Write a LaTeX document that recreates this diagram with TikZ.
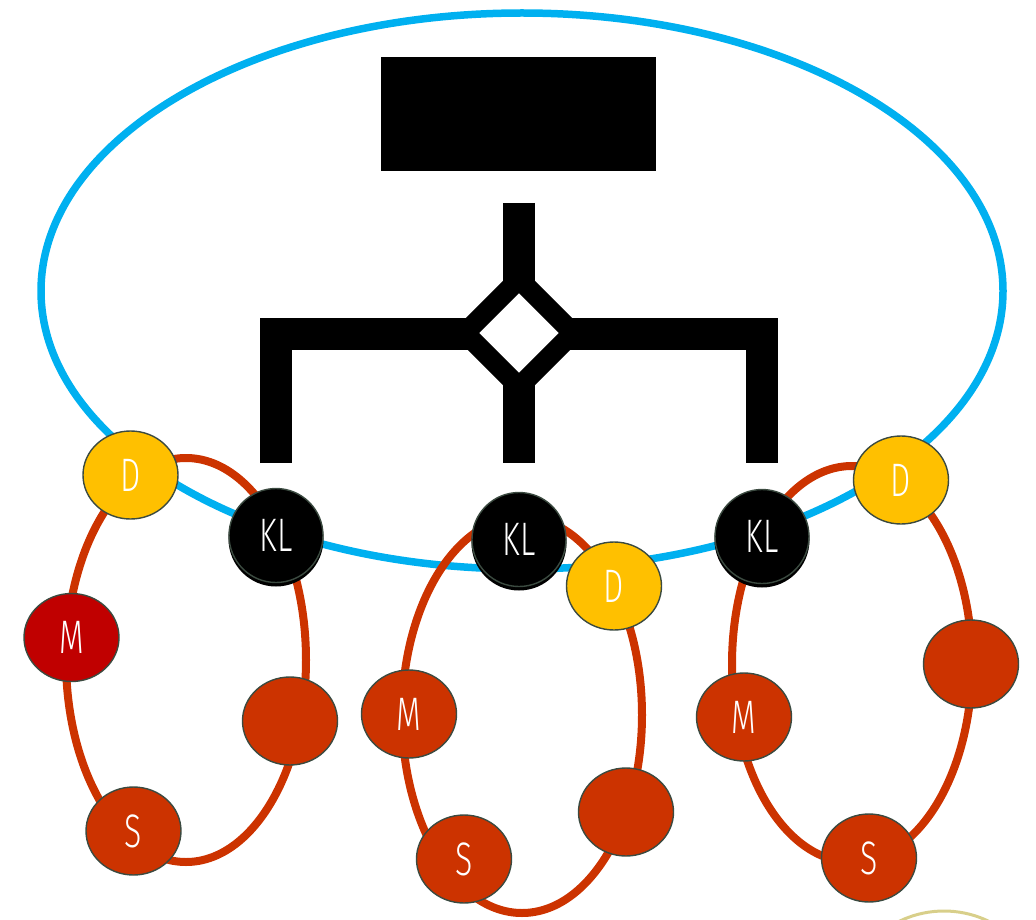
\documentclass[tikz,border=0pt]{standalone}
\usepackage{fontspec}
\usetikzlibrary{shapes.geometric}
\newfontfamily\lbl[FakeStretch=0.68]{Fira Sans Light}
\definecolor{skyb}{HTML}{00B0F0}
\definecolor{ringc}{HTML}{CC3300}
\definecolor{dyel}{HTML}{FFC000}
\definecolor{mred}{HTML}{C00000}
\definecolor{nbord}{HTML}{3B4A40}
\definecolor{khaki}{HTML}{D8CF8A}
\tikzset{
  x=1pt, y=-1pt,
  nd/.style={ellipse, minimum width=95pt, minimum height=88pt, inner sep=0pt,
    draw=nbord, line width=1.4pt, text=white, font=\lbl\fontsize{47}{47}\selectfont},
  dnode/.style={nd, fill=dyel},
  mnode/.style={nd, fill=ringc},
  klnode/.style={nd, circle, minimum size=94pt, fill=black},
  klshadow/.style={circle, minimum size=95pt, inner sep=0pt, fill=black},
  ring/.style={draw=ringc, line width=8pt},
  bar/.style={line width=32pt, line join=miter},
}
\begin{document}
\begin{tikzpicture}
\useasboundingbox (0,0) rectangle (1036,920);
% faint circle at the bottom right
\begin{scope}
\clip (0,0) rectangle (1036,920);
\draw[khaki, line width=3pt] (944,1013) circle[radius=102pt];
\end{scope}
% big blue ellipse
\draw[skyb, line width=7.5pt] (522,291) ellipse[x radius=481pt, y radius=278pt];
% black title box
\node[fill=black, minimum width=275pt, minimum height=114pt, inner sep=0pt, anchor=north west] (title) at (381,57) {};
% tree
\draw[bar] (519,203) -- (519,463);
\draw[bar] (276,463) -- (276,333.5) -- (762,333.5) -- (762,463);
\draw[line width=20pt, line join=miter, fill=white] (519,279) -- (573,333) -- (519,387) -- (465,333) -- cycle;
% rings
\draw[ring] (186,660) ellipse[x radius=120pt, y radius=202pt];
\draw[ring] (522,715) ellipse[x radius=120pt, y radius=198pt];
\draw[ring] (852,664) ellipse[x radius=120pt, y radius=198pt];
% left ring nodes
\node[dnode] (d1) at (130.5,475) {D};
\node[klshadow] at (276,539) {};
\node[klnode] (kl1) at (276,535.5) {KL};
\node[nd, fill=mred] (m1) at (71.5,637.5) {M};
\node[mnode] (r1) at (290,721) {};
\node[mnode] (s1) at (133.5,831) {S};
% middle ring nodes
\node[klshadow] at (519,543) {};
\node[klnode] (kl2) at (519,539.5) {KL};
\node[dnode] (d2) at (614,586) {D};
\node[mnode] (m2) at (409,714) {M};
\node[mnode] (r2) at (626,812) {};
\node[mnode] (s2) at (464,859) {S};
% right ring nodes
\node[klshadow] at (762,540) {};
\node[klnode] (kl3) at (762,536.5) {KL};
\node[dnode] (d3) at (901,480) {D};
\node[mnode] (m3) at (744,717) {M};
\node[mnode] (r3) at (971,664) {};
\node[mnode] (s3) at (869,858) {S};
\end{tikzpicture}
\end{document}
